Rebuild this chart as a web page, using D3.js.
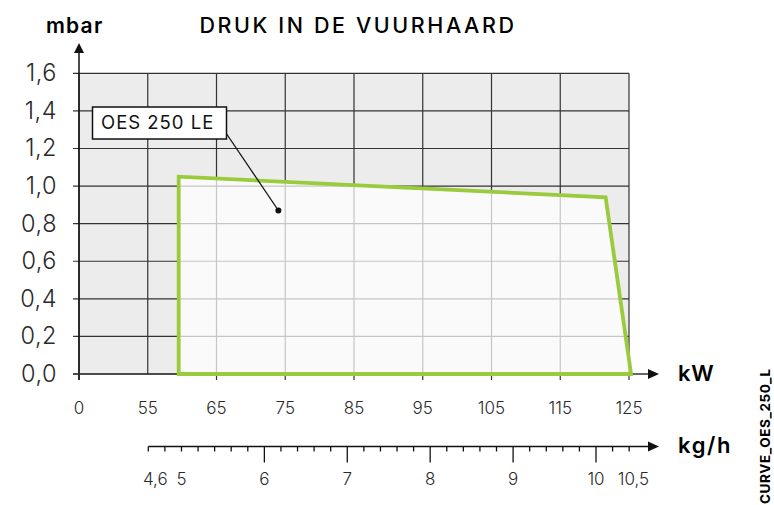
<!DOCTYPE html>
<html>
<head>
<meta charset="utf-8">
<script src="https://cdn.jsdelivr.net/npm/d3@7"></script>
<style>
  body { margin: 0; background: #fff; }
  svg { display: block; font-family: Inter, "Open Sans", sans-serif; }
</style>
</head>
<body>
<div id="container"></div>
<script>
/* DATA */
const kwTicks = [0, 55, 65, 75, 85, 95, 105, 115, 125];
const mbarTicks = [0, 0.2, 0.4, 0.6, 0.8, 1.0, 1.2, 1.4, 1.6];
const kghLabels = [4.6, 5, 6, 7, 8, 9, 10, 10.5];
const kghMajor = [6, 7, 8, 9, 10];
const curveKw = [59.5, 59.5, 121.6, 125.3];
const curveMbar = [0, 1.05, 0.94, 0];
const seriesName = "OES 250 LE";
const labelPoint = [74, 0.87];

/* CONSTANTS */
const width = 774, height = 505;
const green = "#9acb3c", dark = "#333";

const svg = d3.select("#container")
  .append("svg")
  .attr("width", width)
  .attr("height", height);

// broken kW axis: 0 then 55..125
const x = d3.scaleLinear().domain([0, 55, 125]).range([79, 147.75, 629]);
const y = d3.scaleLinear().domain([0, 1.6]).range([374, 73.3]);
const xk = d3.scaleLinear().domain([4.6, 10]).range([148.3, 596]);

const fmt = v => d3.format(".1f")(v).replace(".", ",");

// background
svg.append("rect")
  .attr("x", x(0)).attr("y", y(1.6))
  .attr("width", x(125) - x(0)).attr("height", y(0) - y(1.6))
  .attr("fill", "#ececec");

// grid
svg.selectAll("line.hgrid")
  .data(mbarTicks)
  .join("line")
  .attr("class", "hgrid")
  .attr("x1", x(0) - 6).attr("x2", x(125))
  .attr("y1", d => y(d)).attr("y2", d => y(d))
  .attr("stroke", dark).attr("stroke-width", 1.2);

svg.selectAll("line.vgrid")
  .data(kwTicks)
  .join("line")
  .attr("class", "vgrid")
  .attr("x1", d => x(d)).attr("x2", d => x(d))
  .attr("y1", y(1.6)).attr("y2", d => d === 55 ? y(0) : y(0) + 6)
  .attr("stroke", dark).attr("stroke-width", 1.2);

// curve area
const pts = curveKw.map((k, i) => [x(k), y(curveMbar[i])]);
svg.append("path")
  .attr("d", d3.line()(pts) + "Z")
  .attr("fill", "#fff")
  .attr("fill-opacity", 0.72)
  .attr("stroke", "none");

// axes lines + arrows
svg.append("line")
  .attr("x1", x(0)).attr("x2", x(0))
  .attr("y1", y(0) + 6).attr("y2", 52)
  .attr("stroke", "#111").attr("stroke-width", 1.5);
svg.append("path")
  .attr("d", `M${x(0)},43 L${x(0) - 5},53 L${x(0) + 5},53 Z`)
  .attr("fill", "#111");

svg.append("line")
  .attr("x1", x(0) - 6).attr("x2", 650)
  .attr("y1", y(0)).attr("y2", y(0))
  .attr("stroke", dark).attr("stroke-width", 1.5);
svg.append("path")
  .attr("d", `M659,${y(0)} L648,${y(0) - 5} L648,${y(0) + 5} Z`)
  .attr("fill", "#111");

svg.append("path")
  .attr("d", d3.line()(pts) + "Z")
  .attr("fill", "none")
  .attr("stroke", green)
  .attr("stroke-width", 3.8)
  .attr("stroke-linejoin", "miter");

// y labels
svg.selectAll("text.ylab")
  .data(mbarTicks)
  .join("text")
  .attr("class", "ylab")
  .attr("x", 57).attr("y", d => y(d) + 8)
  .attr("text-anchor", "end")
  .attr("font-size", 23.5).attr("font-weight", 300)
  .attr("letter-spacing", 0.5)
  .attr("fill", "#2a2a2a")
  .text(fmt);

// kW labels
svg.selectAll("text.xlab")
  .data(kwTicks)
  .join("text")
  .attr("class", "xlab")
  .attr("x", d => x(d)).attr("y", 414)
  .attr("text-anchor", "middle")
  .attr("font-size", 17).attr("font-weight", 300)
  .attr("fill", "#2a2a2a")
  .text(d => d);

// kg/h axis
const ky = 446.5;
svg.append("line")
  .attr("x1", xk(4.6)).attr("x2", 650)
  .attr("y1", ky).attr("y2", ky)
  .attr("stroke", "#111").attr("stroke-width", 1.5);
svg.append("path")
  .attr("d", `M659,${ky} L648,${ky - 5} L648,${ky + 5} Z`)
  .attr("fill", "#111");

const minor = d3.range(0, 30).map(i => +(4.6 + i * 0.2).toFixed(1));
svg.selectAll("line.ktick")
  .data(minor)
  .join("line")
  .attr("class", "ktick")
  .attr("x1", d => xk(d)).attr("x2", d => xk(d))
  .attr("y1", ky).attr("y2", d => kghMajor.includes(d) ? ky + 16 : ky + 5)
  .attr("stroke", "#111").attr("stroke-width", 1.3);

svg.selectAll("text.klab")
  .data(kghLabels)
  .join("text")
  .attr("class", "klab")
  .attr("x", d => xk(d) + (d === 4.6 ? 7 : d === 10.5 ? -4 : 0))
  .attr("y", 485)
  .attr("text-anchor", "middle")
  .attr("font-size", 17).attr("font-weight", 300)
  .attr("fill", "#2a2a2a")
  .text(d => Number.isInteger(d) ? d : fmt(d));

// leader + label box
svg.append("line")
  .attr("x1", 226).attr("y1", 133)
  .attr("x2", x(labelPoint[0])).attr("y2", y(labelPoint[1]))
  .attr("stroke", "#111").attr("stroke-width", 1.3);
svg.append("circle")
  .attr("cx", x(labelPoint[0])).attr("cy", y(labelPoint[1]))
  .attr("r", 3).attr("fill", "#111");

svg.append("rect")
  .attr("x", 92.5).attr("y", 107)
  .attr("width", 134).attr("height", 32)
  .attr("fill", "#fff").attr("stroke", "#111").attr("stroke-width", 1.5);
svg.append("text")
  .attr("x", 101).attr("y", 129)
  .attr("font-size", 18.5).attr("font-weight", 400)
  .attr("letter-spacing", 1)
  .attr("fill", "#111")
  .text(seriesName);

// titles
svg.append("text")
  .attr("x", 46).attr("y", 33)
  .attr("font-size", 21).attr("font-weight", 600)
  .attr("letter-spacing", 1.2)
  .text("mbar");
svg.append("text")
  .attr("x", 358).attr("y", 33)
  .attr("text-anchor", "middle")
  .attr("font-size", 21.5).attr("font-weight", 500)
  .attr("letter-spacing", 2.6)
  .text("DRUK IN DE VUURHAARD");
svg.append("text")
  .attr("x", 678).attr("y", 381)
  .attr("font-size", 22).attr("font-weight", 600)
  .attr("letter-spacing", 0.8)
  .text("kW");
svg.append("text")
  .attr("x", 678).attr("y", 453)
  .attr("font-size", 22).attr("font-weight", 600)
  .attr("letter-spacing", 1.6)
  .text("kg/h");

svg.append("text")
  .attr("transform", "translate(770,504) rotate(-90)")
  .attr("font-size", 13.5).attr("font-weight", 700)
  .attr("letter-spacing", 0.6)
  .text("CURVE_OES_250_L");
</script>
</body>
</html>
